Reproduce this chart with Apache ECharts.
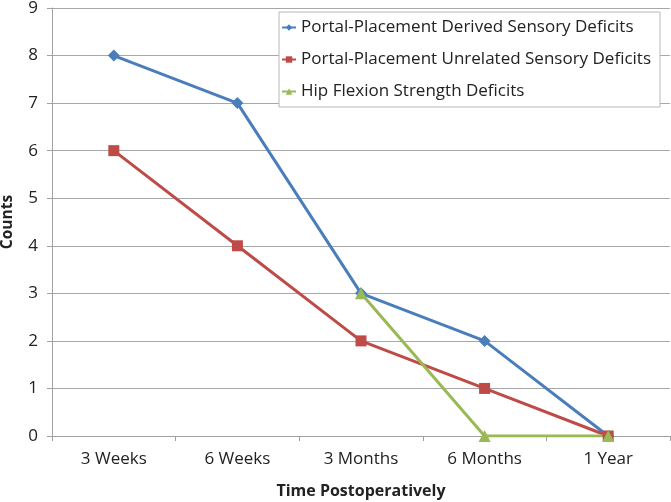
<!DOCTYPE html>
<html><head><meta charset="utf-8">
<script src="https://cdn.jsdelivr.net/npm/echarts@6/dist/echarts.min.js"></script>
<style>html,body{margin:0;padding:0;background:#fff}#c{width:671px;height:502px}</style>
</head><body><div id="c"></div>
<script>
const categories = ['3 Weeks','6 Weeks','3 Months','6 Months','1 Year'];
const derived = [8, 7, 3, 2, 0];
const unrelated = [6, 4, 2, 1, 0];
const hipFlexion = [null, null, 3, 0, 0];
const yTicks = {min: 0, max: 9, interval: 1};

const font = 'Open Sans, Liberation Sans, sans-serif';
const chart = echarts.init(document.getElementById('c'));
chart.setOption({
  animation: false,
  backgroundColor: '#fff',
  grid: {left: 52, right: 1, top: 8, bottom: 66, outerBoundsMode: 'none', containLabel: false},
  legend: {
    orient: 'vertical', right: 11, top: 12,
    backgroundColor: '#fff', borderColor: '#b8b8b8', borderWidth: 1,
    padding: [7, 9, 7, 2], itemGap: 15, itemWidth: 14, itemHeight: 8,
    textStyle: {fontFamily: font, fontSize: 17, color: '#222'},
    data: ['Portal-Placement Derived Sensory Deficits','Portal-Placement Unrelated Sensory Deficits','Hip Flexion Strength Deficits']
  },
  xAxis: {
    type: 'category', data: categories, boundaryGap: true,
    name: 'Time Postoperatively', nameLocation: 'middle', nameGap: 47,
    nameTextStyle: {fontFamily: font, fontSize: 16, fontWeight: 'bold', color: '#222'},
    axisLine: {lineStyle: {color: '#a0a0a0'}},
    axisTick: {show: true, length: 5, lineStyle: {color: '#a0a0a0'}},
    axisLabel: {fontFamily: font, fontSize: 17, color: '#222', margin: 15}
  },
  yAxis: {
    type: 'value', min: yTicks.min, max: yTicks.max, interval: yTicks.interval,
    name: 'Counts', nameLocation: 'middle', nameGap: 36,
    nameTextStyle: {fontFamily: font, fontSize: 15.5, fontWeight: 'bold', color: '#222'},
    axisLine: {show: true, lineStyle: {color: '#a0a0a0'}},
    axisTick: {show: true, length: 5, lineStyle: {color: '#a0a0a0'}},
    axisLabel: {fontFamily: font, fontSize: 17, color: '#222', margin: 14},
    splitLine: {lineStyle: {color: '#a8a8a8'}}
  },
  series: [
    {name: 'Portal-Placement Derived Sensory Deficits', type: 'line', data: derived,
     symbol: 'diamond', symbolSize: 12, color: '#4a7ebb', lineStyle: {width: 3}},
    {name: 'Portal-Placement Unrelated Sensory Deficits', type: 'line', data: unrelated,
     symbol: 'rect', symbolSize: 11, color: '#be4b48', lineStyle: {width: 3}},
    {name: 'Hip Flexion Strength Deficits', type: 'line', data: hipFlexion,
     symbol: 'triangle', symbolSize: 12, color: '#98b954', lineStyle: {width: 3}}
  ]
});
</script></body></html>
